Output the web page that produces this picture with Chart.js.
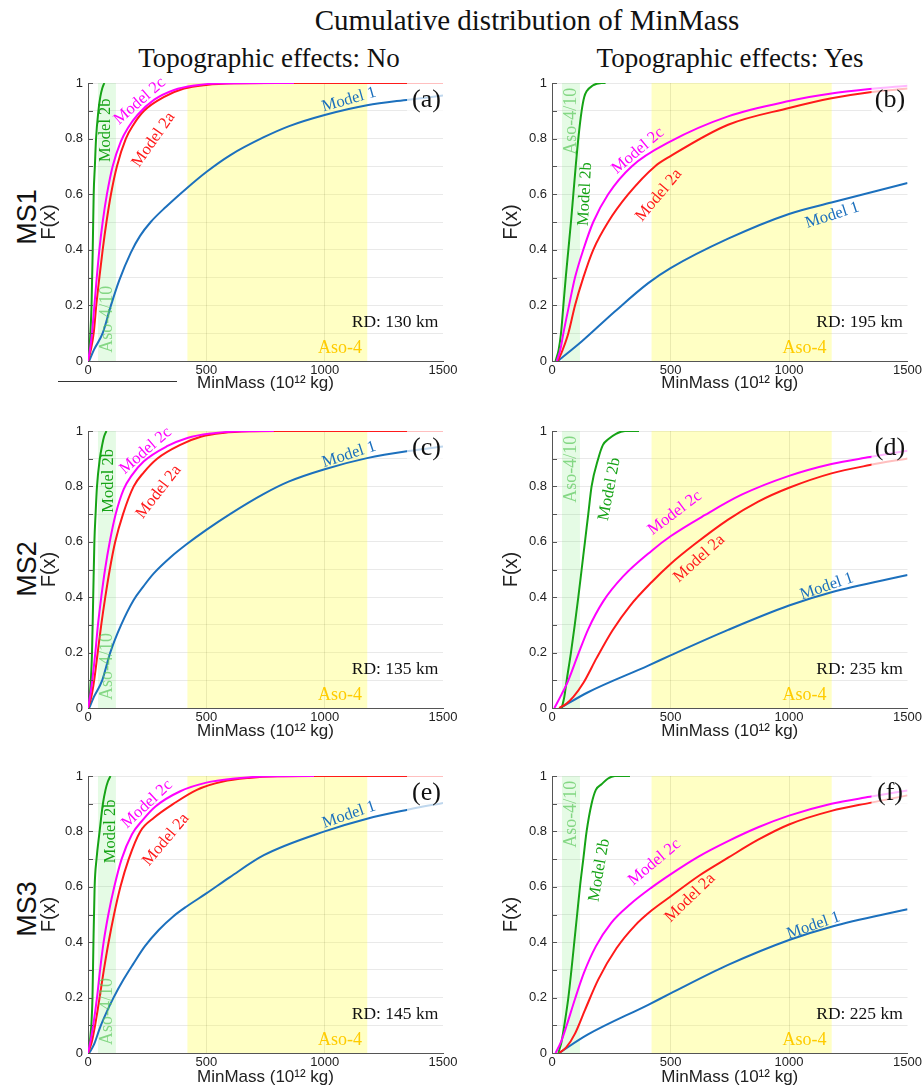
<!DOCTYPE html>
<html><head><meta charset="utf-8">
<script src="https://cdn.jsdelivr.net/npm/chart.js@4.4.1/dist/chart.umd.min.js"></script>
<style>
html,body{margin:0;padding:0;background:#fff;}
body{width:924px;height:1088px;position:relative;overflow:hidden;}
.t{position:absolute;font-family:"Liberation Serif",serif;color:#111;white-space:nowrap;line-height:1;transform:translateX(-50%);}
.ms{position:absolute;font-family:"Liberation Sans",sans-serif;font-size:27px;line-height:1;color:#111;white-space:nowrap;transform:translate(-50%,-50%) rotate(-90deg);}
.p{position:absolute;}
</style></head><body>
<div class="t" style="left:527px;top:6px;font-size:29px;">Cumulative distribution of MinMass</div>
<div class="t" style="left:269px;top:45px;font-size:27px;">Topographic effects: No</div>
<div class="t" style="left:730px;top:45px;font-size:27px;">Topographic effects: Yes</div>
<div class="ms" style="left:27px;top:217px;">MS1</div>
<div class="ms" style="left:27px;top:569px;">MS2</div>
<div class="ms" style="left:27px;top:909px;">MS3</div>
<div style="position:absolute;left:58px;top:381px;width:119px;height:1px;background:#333;"></div>
<div class="p" style="left:0px;top:70px;width:462px;height:324px;"><canvas id="ca"></canvas></div>
<div class="p" style="left:462px;top:70px;width:462px;height:324px;"><canvas id="cb"></canvas></div>
<div class="p" style="left:0px;top:418px;width:462px;height:324px;"><canvas id="cc"></canvas></div>
<div class="p" style="left:462px;top:418px;width:462px;height:324px;"><canvas id="cd"></canvas></div>
<div class="p" style="left:0px;top:763px;width:462px;height:325px;"><canvas id="ce"></canvas></div>
<div class="p" style="left:462px;top:763px;width:462px;height:325px;"><canvas id="cf"></canvas></div>
<script>
// ---- axis ticks / bands / text ----
const xTicks = [0, 500, 1000, 1500];
const yTicks = [0, 0.2, 0.4, 0.6, 0.8, 1];
const yMinor = [0.1, 0.3, 0.5, 0.7, 0.9];
const aso4_10 = [42, 118];
const aso4 = [420, 1180];
const modelNames = ['Model 2c', 'Model 2a', 'Model 2b', 'Model 1'];
const panelLetters = ['(a)', '(b)', '(c)', '(d)', '(e)', '(f)'];
const rdLabels = ['RD: 130 km', 'RD: 195 km', 'RD: 135 km', 'RD: 235 km', 'RD: 145 km', 'RD: 225 km'];

// ---- series: [MinMass, F(x)] ----
// (a) MS1, no topography
const m2b_a = [[3,0],[7,0.05],[10,0.1],[15,0.2],[20,0.4],[24,0.6],[29,0.7],[34,0.8],[44,0.9],[52,0.95],[60,0.98],[69,1]];
const m2c_a = [[0,0],[8,0.04],[17,0.1],[27,0.2],[37,0.3],[48,0.4],[62,0.5],[80,0.6],[104,0.7],[139,0.79],[170,0.84],[209,0.885],[280,0.94],[364,0.975],[450,0.991],[546,0.998],[870,1]];
const m2a_a = [[0,0],[12,0.04],[24,0.1],[35,0.2],[48,0.3],[62,0.4],[78,0.5],[97,0.6],[122,0.7],[160,0.8],[192,0.85],[237,0.9],[322,0.95],[406,0.98],[500,0.993],[617,0.999],[750,1],[1500,1]];
const m1_a  = [[5,0],[25,0.04],[62,0.1],[97,0.2],[132,0.29],[181,0.39],[220,0.45],[265,0.5],[330,0.555],[415,0.62],[500,0.68],[600,0.74],[743,0.805],[850,0.845],[1000,0.885],[1179,0.92],[1355,0.94],[1500,0.955]];
// (b) MS1, topography
const m2b_b = [[15,0],[28,0.04],[38,0.1],[48,0.2],[58,0.3],[69,0.4],[80,0.5],[90,0.6],[100,0.7],[111,0.8],[125,0.9],[136,0.95],[146,0.97],[170,0.99],[209,1],[226,1]];
const m2c_b = [[20,0],[35,0.04],[48,0.1],[72,0.2],[97,0.3],[132,0.4],[174,0.5],[237,0.6],[336,0.7],[500,0.79],[743,0.88],[1000,0.935],[1179,0.962],[1341,0.978],[1500,0.99]];
const m2a_b = [[25,0],[45,0.04],[69,0.1],[97,0.2],[132,0.3],[174,0.4],[237,0.5],[322,0.6],[434,0.7],[500,0.737],[743,0.85],[1000,0.91],[1179,0.945],[1341,0.967],[1500,0.98]];
const m1_b  = [[25,0],[125,0.07],[265,0.178],[406,0.28],[500,0.334],[743,0.44],[1000,0.529],[1179,0.57],[1500,0.64]];
// (c) MS2, no topography
const m2b_c = [[3,0],[8,0.05],[12,0.1],[17,0.2],[22,0.4],[27,0.6],[32,0.7],[38,0.8],[50,0.9],[60,0.95],[68,0.98],[78,1]];
const m2c_c = [[0,0],[10,0.05],[18,0.1],[31,0.2],[42,0.3],[56,0.4],[72,0.5],[92,0.6],[117,0.7],[151,0.79],[185,0.84],[235,0.89],[334,0.945],[420,0.975],[520,0.991],[620,0.998],[785,1]];
const m2a_c = [[0,0],[14,0.04],[26,0.1],[41,0.2],[56,0.3],[73,0.4],[92,0.5],[115,0.6],[148,0.7],[193,0.8],[235,0.85],[292,0.9],[390,0.95],[480,0.98],[570,0.993],[680,0.999],[800,1],[1500,1]];
const m1_c  = [[5,0],[25,0.04],[60,0.1],[94,0.2],[140,0.3],[193,0.39],[235,0.44],[277,0.485],[350,0.545],[415,0.59],[500,0.643],[600,0.7],[743,0.773],[850,0.818],[1000,0.862],[1179,0.902],[1355,0.928],[1500,0.944]];
// (d) MS2, topography
const m2b_d = [[41,0],[52,0.04],[62,0.1],[80,0.2],[96,0.3],[111,0.4],[125,0.5],[139,0.6],[153,0.7],[167,0.8],[195,0.9],[215,0.95],[237,0.97],[270,0.99],[308,1],[367,1]];
const m2c_d = [[10,0],[41,0.05],[69,0.1],[111,0.195],[153,0.285],[216,0.385],[300,0.475],[421,0.568],[500,0.62],[646,0.697],[800,0.77],[1000,0.838],[1179,0.881],[1341,0.906],[1500,0.929]];
const m2a_d = [[30,0],[60,0.015],[90,0.04],[132,0.09],[188,0.18],[255,0.28],[330,0.37],[421,0.455],[500,0.52],[600,0.59],[743,0.68],[870,0.745],[1000,0.795],[1179,0.847],[1341,0.877],[1500,0.901]];
const m1_d  = [[35,0],[150,0.056],[406,0.153],[500,0.19],[743,0.282],[1000,0.37],[1179,0.418],[1500,0.48]];
// (e) MS3, no topography
const m2b_e = [[3,0],[9,0.05],[14,0.1],[19,0.2],[23,0.4],[28,0.6],[36,0.7],[49,0.8],[63,0.9],[74,0.95],[84,0.98],[95,1]];
const m2c_e = [[0,0],[12,0.05],[22,0.1],[38,0.2],[51,0.3],[66,0.4],[86,0.5],[111,0.6],[142,0.7],[186,0.79],[230,0.84],[285,0.89],[390,0.945],[500,0.976],[620,0.991],[740,0.998],[955,1]];
const m2a_e = [[0,0],[16,0.04],[30,0.1],[49,0.2],[67,0.3],[87,0.4],[110,0.5],[137,0.6],[172,0.7],[221,0.8],[280,0.85],[362,0.9],[460,0.95],[570,0.98],[680,0.993],[800,0.999],[950,1],[1500,1]];
const m1_e  = [[5,0],[25,0.03],[50,0.09],[80,0.15],[108,0.2],[150,0.265],[190,0.32],[240,0.385],[300,0.445],[360,0.493],[415,0.528],[500,0.576],[600,0.635],[743,0.714],[1000,0.8],[1179,0.846],[1355,0.879],[1500,0.903]];
// (f) MS3, topography
const m2b_f = [[27,0],[40,0.04],[52,0.1],[69,0.2],[82,0.3],[94,0.4],[106,0.5],[118,0.6],[132,0.7],[146,0.8],[167,0.9],[185,0.95],[209,0.97],[235,0.99],[265,1],[329,1]];
const m2c_f = [[15,0],[38,0.04],[62,0.1],[97,0.195],[135,0.29],[185,0.385],[250,0.47],[330,0.537],[421,0.598],[500,0.645],[620,0.71],[743,0.765],[870,0.815],[1000,0.857],[1179,0.9],[1341,0.925],[1500,0.948]];
const m2a_f = [[30,0],[60,0.02],[97,0.07],[139,0.155],[195,0.265],[272,0.378],[350,0.46],[421,0.515],[500,0.565],[620,0.64],[743,0.705],[870,0.77],[1000,0.825],[1179,0.874],[1341,0.903],[1500,0.93]];
const m1_f  = [[30,0],[150,0.066],[406,0.174],[500,0.215],[743,0.318],[1000,0.408],[1179,0.456],[1500,0.519]];

// ---- styling / placement (not data) ----
const COLORS = {m:'#ff00ff', r:'#ff1a1a', g:'#16a316', b:'#1c70bd'};
const LINE_COLORS = [COLORS.m, COLORS.r, COLORS.g, COLORS.b];
// label centre [MinMass, F, angle, normal offset px] in modelNames order: 2c, 2a, 2b, 1
const labelPlacement = [
  [[238,0.916,-41,7],[270,0.80,-55,-2],[73,0.83,-90,0],[1103,0.94,-16,0]],
  [[379,0.74,-40,6],[431,0.61,-50,-6],[140,0.60,-87,0],[1183,0.524,-18,0]],
  [[263,0.91,-41,7],[292,0.785,-52,-2],[87,0.82,-90,0],[1103,0.915,-18,0]],
  [[534,0.687,-37,6],[604,0.556,-42,-6],[243,0.79,-79,0],[1159,0.439,-19,0]],
  [[270,0.88,-43,7],[323,0.775,-50,-2],[94,0.80,-90,0],[1103,0.86,-19,0]],
  [[449,0.672,-40,6],[565,0.576,-44,-6],[200,0.66,-80,0],[1103,0.46,-19,0]]
];
const panelSeries = [
  [m2c_a, m2a_a, m2b_a, m1_a],
  [m2c_b, m2a_b, m2b_b, m1_b],
  [m2c_c, m2a_c, m2b_c, m1_c],
  [m2c_d, m2a_d, m2b_d, m1_d],
  [m2c_e, m2a_e, m2b_e, m1_e],
  [m2c_f, m2a_f, m2b_f, m1_f]
];
const canvasIds = ['ca','cb','cc','cd','ce','cf'];
const xHeights = [33, 33, 34, 34, 35, 35];

function txt(ctx, s, px, py, ang, font, color, align) {
  ctx.save();
  ctx.translate(px, py);
  ctx.rotate(ang * Math.PI / 180);
  ctx.font = font;
  ctx.fillStyle = color;
  ctx.textAlign = align || 'center';
  ctx.textBaseline = 'middle';
  ctx.fillText(s, 0, 0);
  ctx.restore();
}

function makeOverlay(i) {
  const right = i % 2 === 1;
  return {
    id: 'overlay' + i,
    beforeDatasetsDraw(chart) {
      const {ctx, chartArea: ca, scales: {x}} = chart;
      ctx.save();
      const g0 = x.getPixelForValue(aso4_10[0]), g1 = x.getPixelForValue(aso4_10[1]);
      ctx.fillStyle = 'rgba(0,220,0,0.1)';
      ctx.fillRect(g0, ca.top, g1 - g0, ca.bottom - ca.top);
      const y0 = x.getPixelForValue(aso4[0]), y1 = x.getPixelForValue(aso4[1]);
      ctx.fillStyle = 'rgba(255,255,0,0.23)';
      ctx.fillRect(y0, ca.top, y1 - y0, ca.bottom - ca.top);
      ctx.restore();
    },
    afterDatasetsDraw(chart) {
      const {ctx, chartArea: ca, scales: {x, y}} = chart;
      ctx.save();
      const bx = x.getPixelForValue(1348), by = y.getPixelForValue(0.872);
      ctx.fillStyle = 'rgba(255,255,255,0.72)';
      ctx.fillRect(bx, ca.top - 3, ca.right + 2 - bx, by - ca.top + 3);
      ctx.strokeStyle = '#555'; ctx.lineWidth = 1;
      yTicks.concat(yMinor).forEach(v => {
        const py = Math.round(y.getPixelForValue(v)) + 0.5;
        ctx.beginPath(); ctx.moveTo(ca.left, py); ctx.lineTo(ca.left + 5, py); ctx.stroke();
      });
      ctx.restore();
      const serif = '"Liberation Serif", serif';
      txt(ctx, panelLetters[i], x.getPixelForValue(right ? 1426 : 1430), y.getPixelForValue(0.937), 0, '26px ' + serif, '#111');
      txt(ctx, rdLabels[i], x.getPixelForValue(1480), y.getPixelForValue(0.14), 0, '17.5px ' + serif, '#111', 'right');
      txt(ctx, 'Aso-4', x.getPixelForValue(1065), y.getPixelForValue(0.047), 0, '18px ' + serif, '#ffcc00');
      txt(ctx, 'Aso-4/10', x.getPixelForValue(80), y.getPixelForValue(right ? 0.862 : 0.15), -90, '18px ' + serif, 'rgba(90,200,90,0.7)');
      labelPlacement[i].forEach((p, k) => {
        const a = p[2] * Math.PI / 180, off = p[3];
        const px = x.getPixelForValue(p[0]) + Math.sin(a) * off;
        const py = y.getPixelForValue(p[1]) - Math.cos(a) * off;
        txt(ctx, modelNames[k], px, py, p[2], '16.5px ' + serif, LINE_COLORS[k]);
      });
    }
  };
}

const sans = '"Liberation Sans", sans-serif';
canvasIds.forEach((id, i) => {
  const right = i % 2 === 1;
  new Chart(document.getElementById(id), {
    type: 'line',
    data: {
      datasets: panelSeries[i].map((s, k) => ({
        label: modelNames[k],
        data: s.map(p => ({x: p[0], y: p[1]})),
        borderColor: LINE_COLORS[k],
        borderWidth: 2,
        pointRadius: 0,
        fill: false,
        cubicInterpolationMode: 'monotone'
      }))
    },
    options: {
      responsive: true, maintainAspectRatio: false, animation: false, events: [],
      layout: {padding: {top: 13, right: right ? 16 : 19, bottom: 0, left: 0}},
      plugins: {legend: {display: false}, tooltip: {enabled: false}},
      scales: {
        x: {
          type: 'linear', min: 0, max: 1500,
          afterBuildTicks: s => { s.ticks = xTicks.map(v => ({value: v})); },
          afterFit: s => { s.height = xHeights[i]; },
          ticks: {callback: v => String(v), font: {family: sans, size: 13}, color: '#222', padding: 2, maxRotation: 0, autoSkip: false},
          grid: {drawTicks: false, color: c => (c.tick && (c.tick.value === 500 || c.tick.value === 1000)) ? 'rgba(0,0,0,0.11)' : 'rgba(0,0,0,0)'},
          border: {color: '#555', width: 1},
          title: {display: true, text: 'MinMass (10¹² kg)', font: {family: sans, size: 17}, color: '#222', padding: 0}
        },
        y: {
          type: 'linear', min: 0, max: 1,
          afterBuildTicks: s => { s.ticks = yTicks.concat(yMinor).sort((a, b) => a - b).map(v => ({value: v})); },
          afterFit: s => { s.width = right ? 90 : 88; },
          ticks: {callback: v => yTicks.includes(v) ? String(v) : '', font: {family: sans, size: 13}, color: '#222', padding: 5, autoSkip: false},
          grid: {drawTicks: false, color: c => (c.tick && c.tick.value === 0) ? 'rgba(0,0,0,0)' : 'rgba(0,0,0,0.085)'},
          border: {color: '#555', width: 1},
          title: {display: true, text: 'F(x)', font: {family: sans, size: 20}, color: '#222', padding: {top: right ? 37.7 : 37, bottom: 0}}
        }
      }
    },
    plugins: [makeOverlay(i)]
  });
});
</script>
</body></html>
